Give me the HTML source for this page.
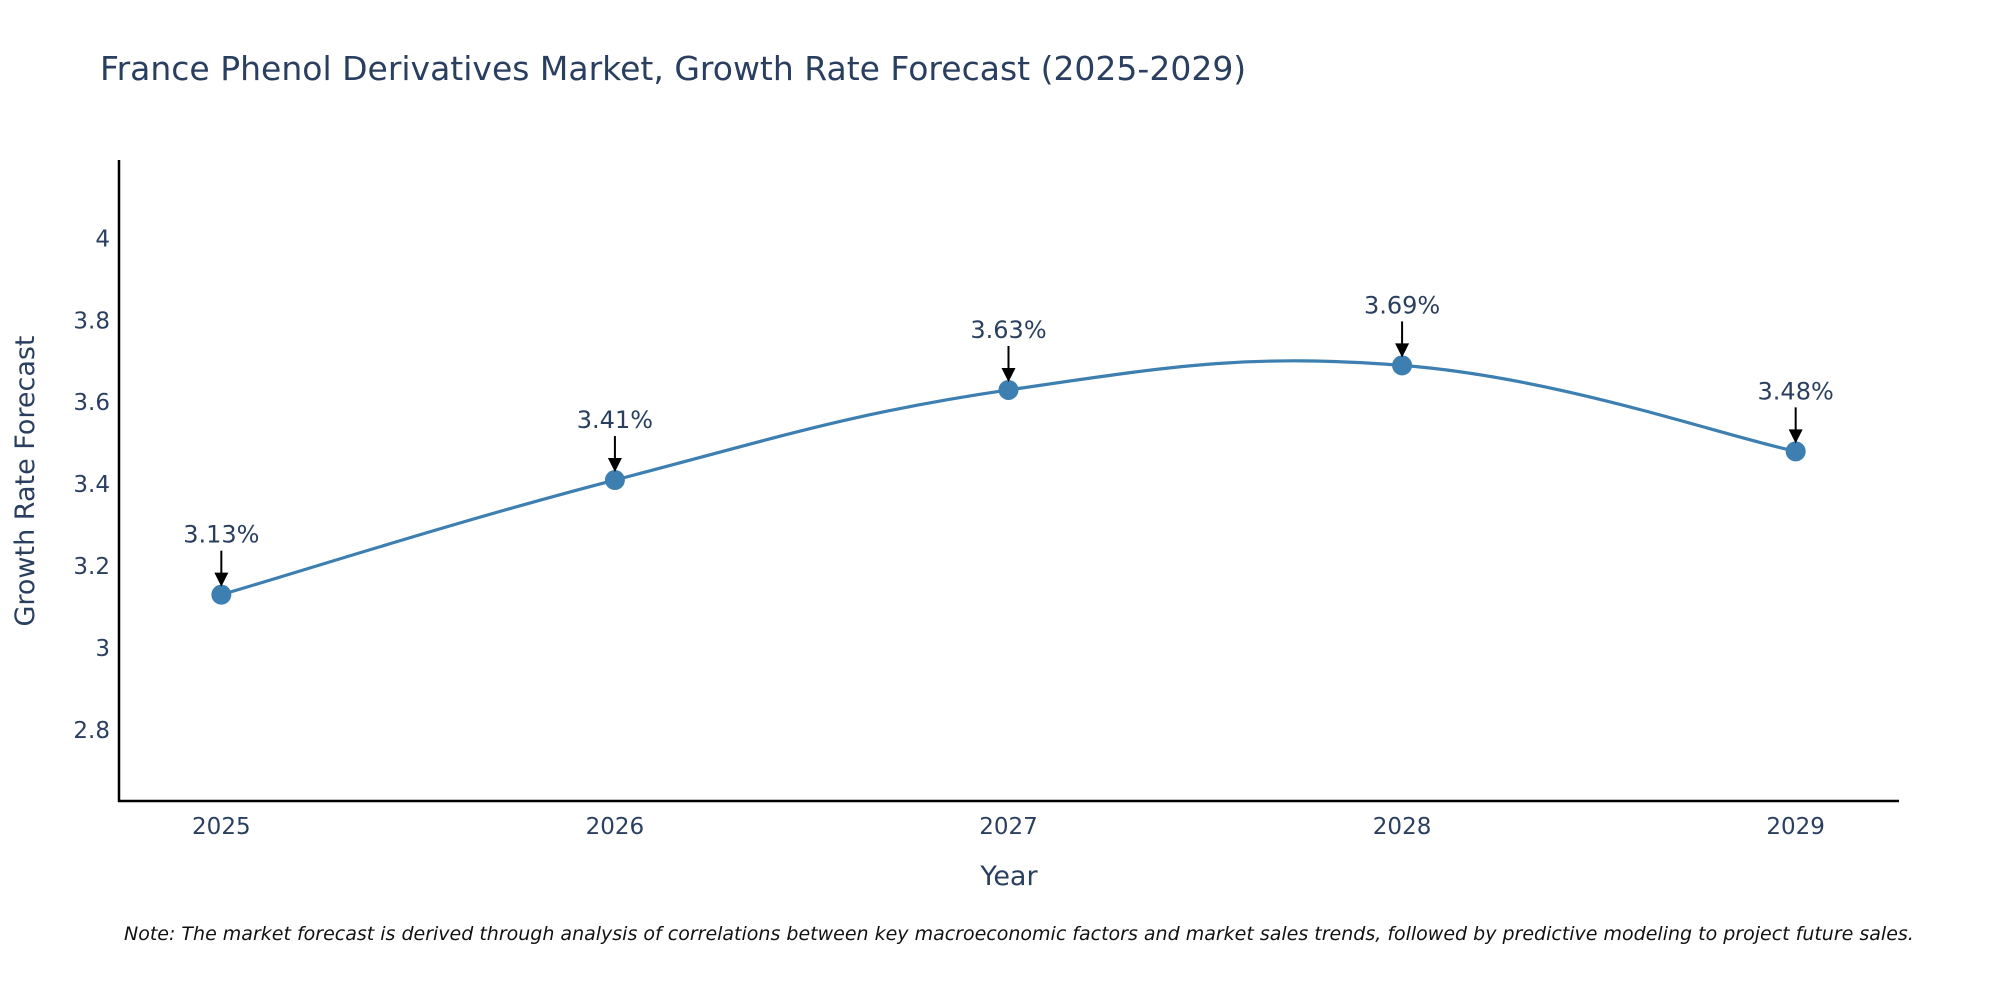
<!DOCTYPE html>
<html><head><meta charset="utf-8"><style>
body{margin:0;background:#fff;}
svg{display:block;font-family:"DejaVu Sans","Liberation Sans",sans-serif;}
</style></head><body>
<svg id="chart" width="2000" height="1000" viewBox="0 0 2000 1000">
<rect width="2000" height="1000" fill="#fff"/>
<text x="100" y="80" font-size="33" fill="#2a3f5f">France Phenol Derivatives Market, Growth Rate Forecast (2025-2029)</text>
<g id="yticks"></g><g id="xticks"></g>
<line x1="119" y1="160" x2="119" y2="802" stroke="#000" stroke-width="2.5"/>
<line x1="118" y1="801" x2="1899" y2="801" stroke="#000" stroke-width="2.5"/>
<text x="1009" y="885" font-size="27" fill="#2a3f5f" text-anchor="middle">Year</text>
<text transform="translate(34,481) rotate(-90)" font-size="27" fill="#2a3f5f" text-anchor="middle">Growth Rate Forecast</text>
<g id="plot"></g>
<text x="124" y="940" font-size="19" font-style="italic" fill="#111">Note: The market forecast is derived through analysis of correlations between key macroeconomic factors and market sales trends, followed by predictive modeling to project future sales.</text>
</svg>
<script>
const years = [2025, 2026, 2027, 2028, 2029];
const rates = [3.13, 3.41, 3.63, 3.69, 3.48];
const yTickValues = [2.8, 3, 3.2, 3.4, 3.6, 3.8, 4];
const yTickLabels = ["2.8", "3", "3.2", "3.4", "3.6", "3.8", "4"];

const NS = "http://www.w3.org/2000/svg";
const xMin = 2024.74, xMax = 2029.26, pxL = 119, pxR = 1898;
const yMin = 2.626, yMax = 4.19, pyB = 801, pyT = 160.7;
const X = v => pxL + (v - xMin) / (xMax - xMin) * (pxR - pxL);
const Y = v => pyB - (v - yMin) / (yMax - yMin) * (pyB - pyT);
function mk(tag, attrs, parent) {
  const e = document.createElementNS(NS, tag);
  for (const k in attrs) e.setAttribute(k, attrs[k]);
  parent.appendChild(e); return e;
}
const yt = document.getElementById('yticks');
yTickValues.forEach((v, i) => {
  const t = mk('text', {x: 110, y: Y(v) + 8, 'font-size': 23, fill: '#2a3f5f', 'text-anchor': 'end'}, yt);
  
  
  t.textContent = yTickLabels[i];
});
const xt = document.getElementById('xticks');
years.forEach(v => {
  const t = mk('text', {x: X(v), y: 834, 'font-size': 23, fill: '#2a3f5f', 'text-anchor': 'middle'}, xt);
  
  
  t.textContent = String(v);
});
const pts = years.map((y, i) => [X(y), Y(rates[i])]);
let d = `M${pts[0][0]},${pts[0][1]}`;
const s = 0.2;
for (let i = 0; i < pts.length - 1; i++) {
  const p0 = pts[Math.max(0, i - 1)], p1 = pts[i], p2 = pts[i + 1], p3 = pts[Math.min(pts.length - 1, i + 2)];
  const c1 = [p1[0] + (p2[0] - p0[0]) * s, p1[1] + (p2[1] - p0[1]) * s];
  const c2 = [p2[0] - (p3[0] - p1[0]) * s, p2[1] - (p3[1] - p1[1]) * s];
  d += ` C${c1[0]},${c1[1]} ${c2[0]},${c2[1]} ${p2[0]},${p2[1]}`;
}
const plot = document.getElementById('plot');
const line = mk('path', {d: d, fill: 'none', stroke: '#3d7fb0', 'stroke-width': 3.2}, plot);


pts.forEach((p, i) => {
  const c = mk('circle', {cx: p[0], cy: p[1], r: 10, fill: '#3d7fb0'}, plot);
  
  
  const a = mk('line', {x1: p[0], y1: p[1] - 44, x2: p[0], y2: p[1] - 20, stroke: '#000', 'stroke-width': 2}, plot);
  
  
  const h = mk('polygon', {points: `${p[0]-7},${p[1]-22} ${p[0]+7},${p[1]-22} ${p[0]},${p[1]-8}`, fill: '#000'}, plot);
  
  
  const t = mk('text', {x: p[0], y: p[1] - 52, 'font-size': 24, fill: '#2a3f5f', 'text-anchor': 'middle'}, plot);
  
  
  t.textContent = rates[i].toFixed(2) + '%';
});
</script>
</body></html>
